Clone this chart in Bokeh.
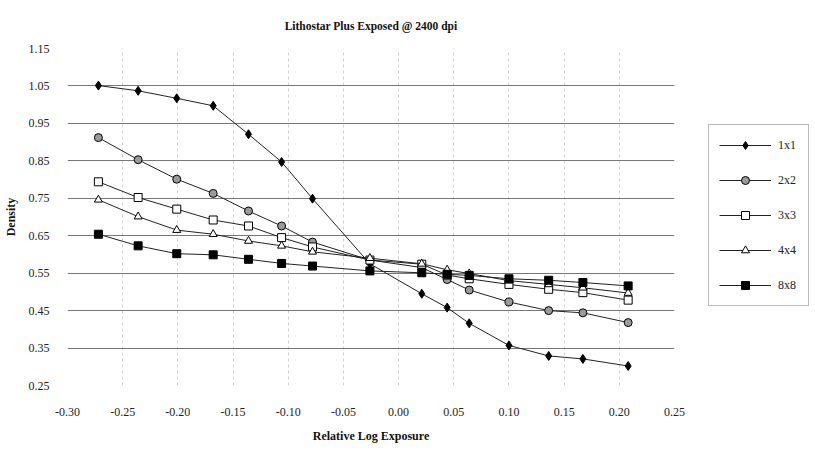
from bokeh.plotting import figure
from bokeh.models import Legend, LegendItem, Range1d, FixedTicker, NumeralTickFormatter
from bokeh.embed import file_html
from bokeh.resources import INLINE

# ---- data ----
exposure = [-0.272, -0.236, -0.201, -0.168, -0.136, -0.106, -0.078, -0.026,
            0.021, 0.044, 0.064, 0.100, 0.136, 0.167, 0.208]
d1x1 = [1.051, 1.037, 1.017, 0.997, 0.921, 0.847, 0.749, 0.575,
        0.495, 0.458, 0.416, 0.357, 0.329, 0.321, 0.302]
d2x2 = [0.912, 0.853, 0.801, 0.763, 0.716, 0.676, 0.633, 0.585,
        0.565, 0.533, 0.505, 0.473, 0.450, 0.444, 0.418]
d3x3 = [0.794, 0.752, 0.721, 0.692, 0.676, 0.645, 0.620, 0.585,
        0.574, 0.545, 0.535, 0.520, 0.507, 0.498, 0.478]
d4x4 = [0.746, 0.701, 0.665, 0.654, 0.636, 0.623, 0.607, 0.590,
        0.575, 0.559, 0.549, 0.530, 0.520, 0.511, 0.497]
d8x8 = [0.654, 0.623, 0.602, 0.599, 0.587, 0.576, 0.569, 0.556,
        0.551, 0.547, 0.544, 0.535, 0.531, 0.525, 0.516]
series_names = ["1x1", "2x2", "3x3", "4x4", "8x8"]
x_ticks = [-0.30, -0.25, -0.20, -0.15, -0.10, -0.05, 0.00, 0.05, 0.10, 0.15, 0.20, 0.25]
y_ticks = [0.25, 0.35, 0.45, 0.55, 0.65, 0.75, 0.85, 0.95, 1.05, 1.15]

FONT = "Liberation Serif"

p = figure(frame_width=607, frame_height=337,
           x_range=Range1d(-0.30, 0.25), y_range=Range1d(0.25, 1.15),
           output_backend="svg", toolbar_location=None,
           min_border_left=58, min_border_top=48, min_border_bottom=55,
           min_border_right=134)
p.outline_line_color = None
p.background_fill_color = "white"

p.title.text = "Lithostar Plus Exposed @ 2400 dpi"
p.title.align = "center"
p.title.text_font = FONT
p.title.text_font_size = "11.5px"
p.title.text_font_style = "bold"
p.title.text_color = "#111111"
p.title.standoff = 33

for ax in (p.xaxis[0], p.yaxis[0]):
    ax.axis_line_color = None
    ax.major_tick_line_color = None
    ax.minor_tick_line_color = None
    ax.major_label_text_font = FONT
    ax.major_label_text_font_size = "12px"
    ax.major_label_text_color = "#222222"
    ax.axis_label_text_font = FONT
    ax.axis_label_text_font_size = "12px"
    ax.axis_label_text_font_style = "bold"
    ax.axis_label_text_color = "#111111"
    ax.formatter = NumeralTickFormatter(format="0.00")

p.xaxis.ticker = FixedTicker(ticks=x_ticks)
p.yaxis.ticker = FixedTicker(ticks=y_ticks)
p.xaxis.axis_label = "Relative Log Exposure"
p.yaxis.axis_label = "Density"
p.xaxis.major_label_standoff = 16
p.xaxis.axis_label_standoff = 10
p.yaxis.major_label_standoff = 12
p.yaxis.axis_label_standoff = 8

p.ygrid.grid_line_color = "#555555"
p.ygrid.grid_line_width = 1
p.ygrid.grid_line_alpha = 0.8
p.xgrid.grid_line_color = "#777777"
p.xgrid.grid_line_dash = "3 3"
p.xgrid.grid_line_alpha = 0.35

styles = [
    (d1x1, "diamond", 9, "black"),
    (d2x2, "circle", 8, "#9a9a9a"),
    (d3x3, "square", 8, "white"),
    (d4x4, "triangle", 8, "white"),
    (d8x8, "square", 8, "black"),
]

items = []
for name, (vals, marker, size, fill) in zip(series_names, styles):
    ln = p.line(exposure, vals, line_color="#222222", line_width=1)
    sc = p.scatter(exposure, vals, marker=marker, size=size,
                   fill_color=fill, line_color="black", line_width=1)
    items.append(LegendItem(label=name, renderers=[ln, sc]))

legend = Legend(items=items, location=(34, 79))
legend.label_text_font = FONT
legend.label_text_font_size = "12px"
legend.label_text_color = "#222222"
legend.glyph_width = 52
legend.glyph_height = 20
legend.label_standoff = 7
legend.spacing = 15
legend.padding = 10
legend.margin = 0
legend.border_line_color = "#777777"
legend.border_line_width = 1
legend.background_fill_alpha = 0
p.add_layout(legend, "right")

open("out.html", "w").write(file_html(p, INLINE))
